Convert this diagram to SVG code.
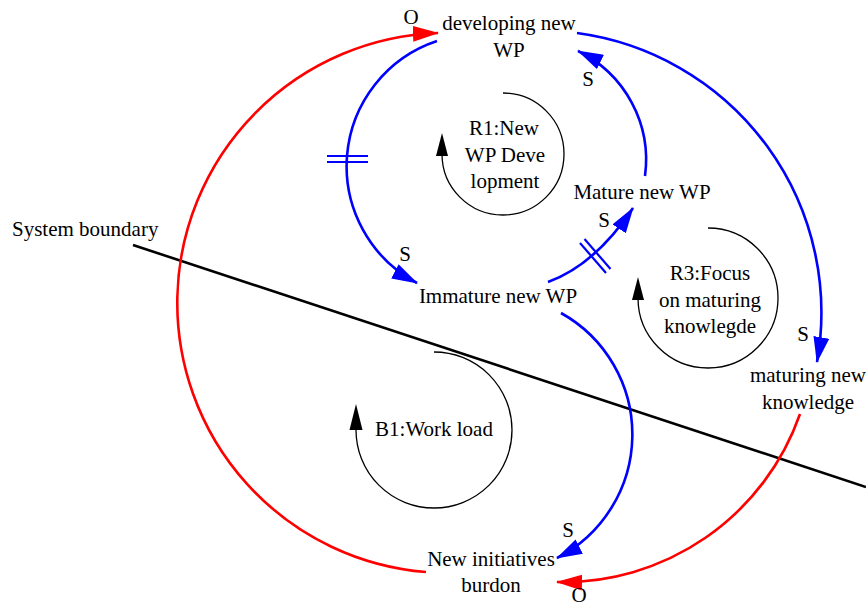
<svg xmlns="http://www.w3.org/2000/svg" width="866" height="608" viewBox="0 0 866 608" font-family="'Liberation Serif', 'DejaVu Serif', 'Times New Roman', serif" font-size="21">
  <style>
    text { font-family: "Liberation Serif", "DejaVu Serif", "Times New Roman", serif; font-size: 21px; fill: #000; }
    .node text, .loop text { text-anchor: middle; }
    .pos { fill: none; stroke: #0000ff; stroke-width: 2.6; marker-end: url(#headBlue); }
    .neg { fill: none; stroke: #ff0000; stroke-width: 2.6; marker-end: url(#headRed); }
    .delay { stroke: #0000ff; stroke-width: 2.2; }
    .loopArc { fill: none; stroke: #000; stroke-width: 1.3; }
    .loopHead { fill: #000; }
    .boundary { stroke: #000; stroke-width: 2.6; }
  </style>
  <defs>
    <marker id="headBlue" markerUnits="userSpaceOnUse" markerWidth="26" markerHeight="16" viewBox="0 0 26 16" refX="25" refY="8" orient="auto">
      <path d="M0,0 L26,8 L0,16 z" fill="#0000ff"/>
    </marker>
    <marker id="headRed" markerUnits="userSpaceOnUse" markerWidth="26" markerHeight="16" viewBox="0 0 26 16" refX="25" refY="8" orient="auto">
      <path d="M0,0 L26,8 L0,16 z" fill="#ff0000"/>
    </marker>
  </defs>

  <rect width="866" height="608" fill="#fff"/>

  <!-- system boundary -->
  <g id="system-boundary">
    <line class="boundary" x1="133" y1="245" x2="866" y2="487"/>
    <text x="12" y="236">System boundary</text>
  </g>

  <!-- connectors -->
  <g id="connectors">
    <!-- New initiatives burdon -> developing new WP (O) -->
    <path class="neg" d="M426,572 A270,270 0 0 1 438,33"/>
    <!-- maturing new knowledge -> New initiatives burdon (O) -->
    <path class="neg" d="M800,414 A251,251 0 0 1 557,582"/>
    <!-- developing new WP -> Immature new WP (S, delayed) -->
    <path class="pos" d="M437,41 A132,132 0 0 0 417,283"/>
    <line class="delay" x1="327" y1="156" x2="368" y2="156"/>
    <line class="delay" x1="327" y1="162" x2="368" y2="162"/>
    <!-- Immature new WP -> Mature new WP (S, delayed) -->
    <path class="pos" d="M548,282 Q595,265 633,208"/>
    <line class="delay" x1="580" y1="243" x2="606" y2="273"/>
    <line class="delay" x1="584.5" y1="239" x2="610.5" y2="269"/>
    <!-- Mature new WP -> developing new WP (S) -->
    <path class="pos" d="M645,176 A121,121 0 0 0 578,51"/>
    <!-- developing new WP -> maturing new knowledge (S) -->
    <path class="pos" d="M577,33 A282,282 0 0 1 817,362"/>
    <!-- Immature new WP -> New initiatives burdon (S) -->
    <path class="pos" d="M561,313 A139,139 0 0 1 557,558"/>

    <!-- polarity labels -->
    <text x="411" y="24" text-anchor="middle">O</text>
    <text x="588" y="86" text-anchor="middle">S</text>
    <text x="405" y="261" text-anchor="middle">S</text>
    <text x="604" y="227" text-anchor="middle">S</text>
    <text x="803" y="341" text-anchor="middle">S</text>
    <text x="568" y="537" text-anchor="middle">S</text>
    <text x="579" y="602" text-anchor="middle">O</text>
  </g>

  <!-- variables -->
  <g id="developing-new-wp" class="node">
    <text x="509" y="30">developing new</text>
    <text x="509" y="57">WP</text>
  </g>
  <g id="mature-new-wp" class="node">
    <text x="642" y="199">Mature new WP</text>
  </g>
  <g id="immature-new-wp" class="node">
    <text x="498" y="303">Immature new WP</text>
  </g>
  <g id="maturing-new-knowledge" class="node">
    <text x="808" y="382">maturing new</text>
    <text x="808" y="409">knowledge</text>
  </g>
  <g id="new-initiatives-burdon" class="node">
    <text x="491" y="566">New initiatives</text>
    <text x="491" y="592">burdon</text>
  </g>

  <!-- loop identifiers -->
  <g id="loop-r1" class="loop">
    <path class="loopArc" d="M503,93 A61,61 0 1 1 442,154"/>
    <polygon class="loopHead" points="442,133 436,156 448,156"/>
    <text x="504" y="135">R1:New</text>
    <text x="505" y="162">WP Deve</text>
    <text x="505" y="188">lopment</text>
  </g>
  <g id="loop-r3" class="loop">
    <path class="loopArc" d="M708,228 A70,70 0 1 1 638,298"/>
    <polygon class="loopHead" points="638,277 632,300 644,300"/>
    <text x="710" y="280">R3:Focus</text>
    <text x="710" y="307">on maturing</text>
    <text x="710" y="333">knowlegde</text>
  </g>
  <g id="loop-b1" class="loop">
    <path class="loopArc" d="M434,352 A78,78 0 1 1 356,430"/>
    <polygon class="loopHead" points="356,404 349.5,430 362.5,430"/>
    <text x="434" y="436">B1:Work load</text>
  </g>
</svg>
